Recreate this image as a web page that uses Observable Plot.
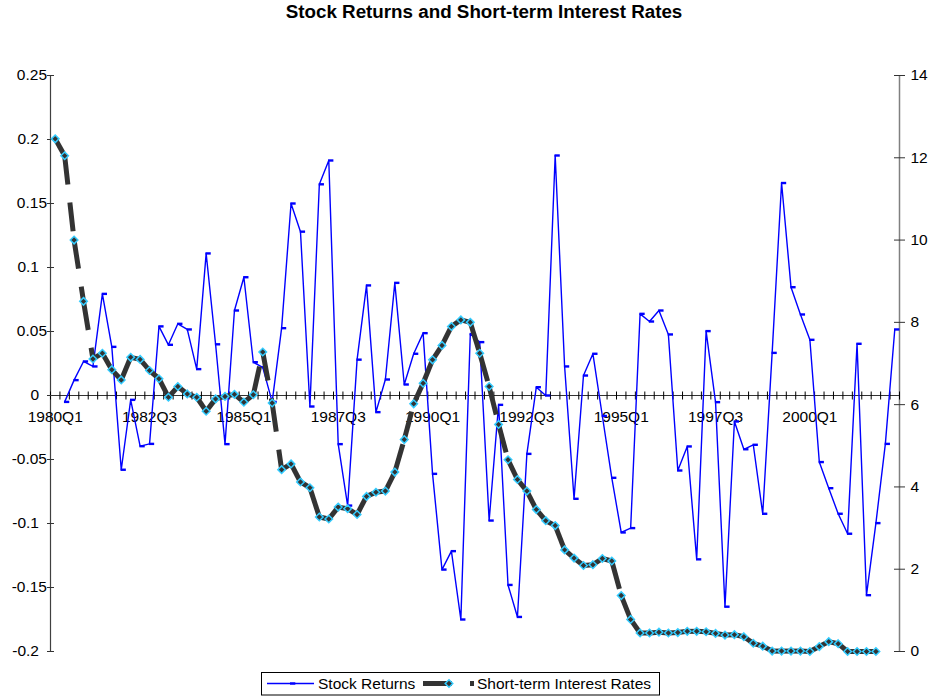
<!DOCTYPE html>
<html><head><meta charset="utf-8">
<script src="https://cdn.jsdelivr.net/npm/d3@7"></script>
<script src="https://cdn.jsdelivr.net/npm/@observablehq/plot@0.6"></script>
<style>
body{margin:0;background:#fff;}
#chart{width:930px;height:698px;}
[aria-label="left-labels"], [aria-label="left-labels"] text{letter-spacing:1.8px;}
[aria-label="right-labels"], [aria-label="right-labels"] text{letter-spacing:1px;}
</style></head><body><div id="chart"></div>
<script>
// ---------- data ----------
const startYear = 1980;
const nQuarters = 90;
const quarters = Array.from({length: nQuarters}, (_, i) => `${startYear + Math.floor(i / 4)}Q${i % 4 + 1}`);
const tickLabels = ["1980Q1","1982Q3","1985Q1","1987Q3","1990Q1","1992Q3","1995Q1","1997Q3","2000Q1"];
const leftTicks = [-0.2, -0.15, -0.1, -0.05, 0, 0.05, 0.1, 0.15, 0.2, 0.25];
const rightTicks = [0, 2, 4, 6, 8, 10, 12, 14];
const stockReturns = [
  null, -0.005, 0.012, 0.0266, 0.0227, 0.0794, 0.038, -0.058, -0.0034, -0.0396,
  -0.0378, 0.054, 0.0396, 0.056, 0.0516, 0.0206, 0.111, 0.040, -0.038, 0.0664,
  0.0924, 0.026, 0.022, -0.005, 0.0526, 0.150, 0.128, -0.0086, 0.165, 0.1836,
  -0.038, -0.086, 0.028, 0.086, -0.013, 0.0125, 0.088, 0.0086, 0.0326, 0.0487,
  -0.0612, -0.136, -0.1216, -0.175, 0.048, 0.0417, -0.0977, -0.0073, -0.148, -0.173,
  -0.0456, 0.0065, 0.0, 0.1875, 0.0227, -0.0807, 0.0156, 0.0326, -0.016, -0.0643,
  -0.107, -0.1036, 0.0638, 0.0578, 0.0664, 0.0477, -0.0586, -0.0398, -0.128, 0.0503,
  -0.0052, -0.165, -0.0203, -0.042, -0.0385, -0.0924, 0.0333, 0.166, 0.0846, 0.0633,
  0.0435, -0.052, -0.0724, -0.0924, -0.108, 0.0404, -0.156, -0.0997, -0.0378, 0.0516
];
const interestRates = [
  12.46, 12.05, 10.0, 8.51, 7.11, 7.25, 6.85, 6.60, 7.15, 7.10,
  6.83, 6.63, 6.18, 6.44, 6.26, 6.18, 5.84, 6.14, 6.20, 6.25,
  6.06, 6.24, 7.28, 6.04, 4.42, 4.56, 4.12, 3.98, 3.27, 3.22,
  3.51, 3.47, 3.33, 3.77, 3.87, 3.90, 4.36, 5.15, 6.02, 6.52,
  7.09, 7.44, 7.90, 8.06, 8.00, 7.25, 6.44, 5.52, 4.66, 4.18,
  3.90, 3.45, 3.18, 3.06, 2.47, 2.27, 2.09, 2.11, 2.26, 2.20,
  1.36, 0.78, 0.45, 0.45, 0.47, 0.45, 0.46, 0.49, 0.49, 0.48,
  0.44, 0.40, 0.41, 0.36, 0.20, 0.13, 0.01, 0.01, 0.01, 0.01,
  0.0, 0.12, 0.24, 0.19, 0.0, 0.0, 0.0, 0.0
];

// ---------- scales helpers ----------
const yMin = -0.2, yMax = 0.25, rMax = 14;
const toLeft = r => yMin + r * (yMax - yMin) / rMax;
const FONT = "'Liberation Sans', Arial, sans-serif";
const FS = 15.5;

const stockData = stockReturns.map((v, i) => ({i, v})).filter(d => d.v != null);
const rateData = interestRates.map((r, i) => ({i, y: toLeft(r)}));
const rateSegs = rateData.slice(1).map((d, k) => ({x1: rateData[k].i, y1: rateData[k].y, x2: d.i, y2: d.y}));
const boundaries = d3.range(nQuarters + 1).map(k => k - 0.5);

// custom symbols
const vTick = {draw(ctx) { ctx.moveTo(0, -4); ctx.lineTo(0, 4); }};
const hTick = (a, b) => ({draw(ctx) { ctx.moveTo(-a, 0); ctx.lineTo(b, 0); }});
const dashSym = {draw(ctx) { ctx.moveTo(-0.7, 0); ctx.lineTo(4.6, 0); }};

const fmt = v => String(Math.round(v * 100) / 100);
const twoDec = v => fmt(v).split(".")[1]?.length === 2;

const svg = Plot.plot({
  width: 930, height: 698,
  marginLeft: 50, marginRight: 31, marginTop: 75, marginBottom: 47,
  x: {type: "linear", domain: [-0.5, nQuarters - 0.5], axis: null},
  y: {domain: [yMin, yMax], axis: null},
  style: {fontFamily: FONT, fontSize: FS + "px", background: "#fff", overflow: "visible"},
  marks: [
    // axes lines
    Plot.ruleX([-0.5], {stroke: "#404040", strokeWidth: 1.2}),
    Plot.ruleX([nQuarters - 0.5], {stroke: "#808080", strokeWidth: 1.5}),
    Plot.ruleY([0], {stroke: "#333", strokeWidth: 1.2}),
    Plot.dot(boundaries, {x: d => d, y: () => 0, symbol: vTick, stroke: "#000", fill: "none", strokeWidth: 1}),
    // left axis ticks & labels
    Plot.dot(leftTicks, {y: d => d, frameAnchor: "left", symbol: hTick(3.5, 3.5), stroke: "#333", fill: "none", strokeWidth: 1}),
    Plot.text(leftTicks.filter(twoDec), {y: d => d, text: fmt, frameAnchor: "left", textAnchor: "end", dx: -3.5, fontSize: FS, ariaLabel: "left-labels"}),
    Plot.text(leftTicks.filter(d => !twoDec(d)), {y: d => d, text: fmt, frameAnchor: "left", textAnchor: "end", dx: -11.5, fontSize: FS, ariaLabel: "left-labels"}),
    // right axis ticks & labels
    Plot.dot(rightTicks, {y: toLeft, frameAnchor: "right", symbol: hTick(5.5, 5.5), stroke: "#333", fill: "none", strokeWidth: 1}),
    Plot.text(rightTicks, {y: toLeft, text: d => String(d), frameAnchor: "right", textAnchor: "start", dx: 11, fontSize: FS, ariaLabel: "right-labels"}),
    // x labels
    Plot.text(tickLabels, {x: d => quarters.indexOf(d), y: () => 0, dy: 22, text: d => d, fontSize: FS}),
    // stock returns
    Plot.line(stockData, {x: "i", y: "v", stroke: "#0000FF", strokeWidth: 1.4}),
    Plot.dot(stockData, {x: "i", y: "v", symbol: dashSym, stroke: "#0000FF", fill: "none", strokeWidth: 2.4}),
    // interest rates
    Plot.link(rateSegs, {x1: "x1", y1: "y1", x2: "x2", y2: "y2", stroke: "#333", strokeWidth: 5, strokeDasharray: "29,18", strokeLinecap: "butt"}),
    Plot.dot(rateData, {x: "i", y: "y", symbol: "diamond2", r: 3.4, fill: "#333", stroke: "#33CCFF", strokeWidth: 1.5})
  ]
});

// title & legend
const s = d3.select(svg);
s.append("text").attr("x", 484).attr("y", 18).attr("text-anchor", "middle")
  .attr("font-family", FONT).attr("font-size", 18.8).attr("font-weight", "bold")
  .text("Stock Returns and Short-term Interest Rates");

const lg = s.append("g").attr("text-anchor", "start");
lg.append("rect").attr("x", 261.5).attr("y", 672.5).attr("width", 398).attr("height", 22.5)
  .attr("fill", "#fff").attr("stroke", "#000").attr("stroke-width", 1);
lg.append("line").attr("x1", 267).attr("x2", 314).attr("y1", 683.5).attr("y2", 683.5)
  .attr("stroke", "#0000FF").attr("stroke-width", 1.4);
lg.append("line").attr("x1", 290).attr("x2", 295.3).attr("y1", 683.5).attr("y2", 683.5)
  .attr("stroke", "#0000FF").attr("stroke-width", 2.4);
lg.append("text").attr("x", 318).attr("y", 689).attr("text-anchor", "start")
  .attr("font-family", FONT).attr("font-size", FS).text("Stock Returns");
lg.append("line").attr("x1", 423).attr("x2", 474).attr("y1", 683.5).attr("y2", 683.5)
  .attr("stroke", "#333").attr("stroke-width", 5).attr("stroke-dasharray", "29,18");
lg.append("path").attr("d", d3.symbol(d3.symbolDiamond2, Math.PI * 3.4 * 3.4)())
  .attr("transform", "translate(449,683.5)").attr("fill", "#333").attr("stroke", "#33CCFF").attr("stroke-width", 1.5);
lg.append("text").attr("x", 477).attr("y", 689).attr("text-anchor", "start")
  .attr("font-family", FONT).attr("font-size", FS).text("Short-term Interest Rates");

document.getElementById("chart").appendChild(svg);
</script></body></html>
